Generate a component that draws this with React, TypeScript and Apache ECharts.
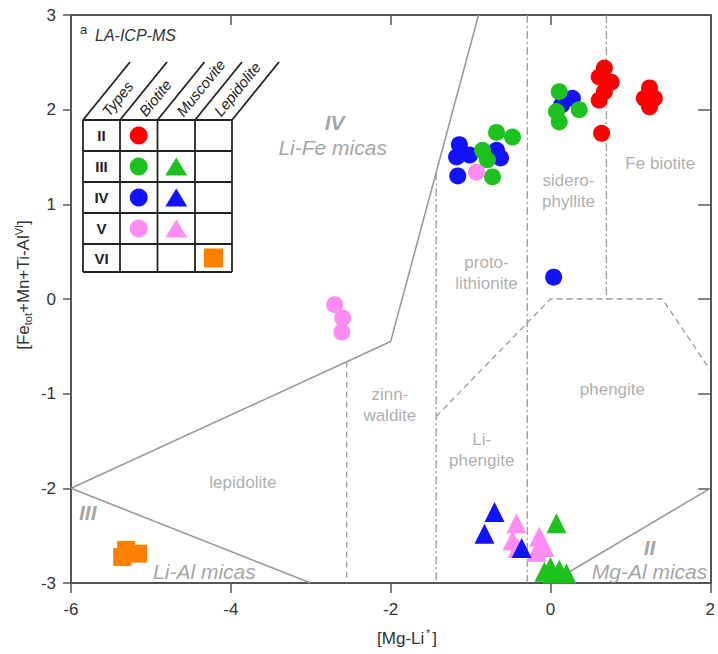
import React, { useEffect, useRef } from "react";
import * as echarts from "echarts";

const FONT = "'Liberation Sans', Arial, Helvetica, sans-serif";

// axis ranges / ticks
const xRange = [-6, 2];
const yRange = [-3, 3];
const xInterval = 2;
const yInterval = 1;

// ---- data: [Mg-Li*, Fetot+Mn+Ti-AlVI] ----
const typeIIBiotite: number[][] = [
  [0.675, 2.44], [0.61, 2.345], [0.76, 2.29], [0.675, 2.19], [0.61, 2.1],
  [0.64, 1.75], [1.24, 2.23], [1.175, 2.12], [1.3, 2.12], [1.24, 2.03],
];
const typeIIIBiotite: number[][] = [
  [0.11, 2.19], [0.075, 1.98], [0.11, 1.87], [0.36, 2.0],
  [-0.675, 1.76], [-0.475, 1.71], [-0.85, 1.57], [-0.79, 1.47], [-0.725, 1.29],
];
const typeIVBiotite: number[][] = [
  [0.14, 2.05], [0.275, 2.12], [0.04, 0.23],
  [-1.14, 1.63], [-1.175, 1.5], [-1.01, 1.52], [-0.675, 1.57], [-0.625, 1.49], [-1.16, 1.3],
];
const typeVBiotite: number[][] = [
  [-0.925, 1.34], [-2.7, -0.06], [-2.6, -0.2], [-2.61, -0.35],
];
const typeIIIMuscovite: number[][] = [
  [0.075, -2.37], [-0.075, -2.88], [0.025, -2.9], [0.11, -2.86], [0.2, -2.9], [0.0, -2.83],
];
const typeIVMuscovite: number[][] = [
  [-0.7, -2.25], [-0.825, -2.48], [-0.36, -2.63],
];
const typeVMuscovite: number[][] = [
  [-0.425, -2.37], [-0.475, -2.55], [-0.41, -2.63], [-0.14, -2.51], [-0.075, -2.62], [-0.175, -2.67],
];
const typeVILepidolite: number[][] = [
  [-5.36, -2.725], [-5.16, -2.69], [-5.31, -2.65],
];

// ---- field boundaries ----
const solidBoundaryLiFe: number[][] = [[-6, -2], [-2, -0.45], [-0.9, 3]];
const solidBoundaryLiAl: number[][] = [[-6, -2], [-3, -3]];
const solidBoundaryMgAl: number[][] = [[0, -3], [2, -2]];
const dashedZinnwaldite: number[][] = [[-2.55, -0.66], [-2.55, -3]];
const dashedPhengite: number[][] = [[-1.43, -1.24], [0, 0], [1.4, 0], [2, -0.75]];
const dashDotLeft: number[][] = [[-1.43, 1.34], [-1.43, -3]];
const dashDotMiddle: number[][] = [[-0.29, 3], [-0.29, -3]];
const dashDotRight: number[][] = [[0.7, 3], [0.7, 0]];

// ---- field names ----
const fieldNames = [
  { name: "lepidolite", x: -3.85, y: -1.94 },
  { name: "zinn-\nwaldite", x: -2.01, y: -1.12 },
  { name: "Li-\nphengite", x: -0.86, y: -1.6 },
  { name: "phengite", x: 0.775, y: -0.96 },
  { name: "proto-\nlithionite", x: -0.8, y: 0.275 },
  { name: "sidero-\nphyllite", x: 0.225, y: 1.14 },
  { name: "Fe biotite", x: 1.375, y: 1.43 },
];
const groupNames = [
  { name: "IV", x: -2.7, y: 1.86, bold: true },
  { name: "Li-Fe micas", x: -2.725, y: 1.6, bold: false },
  { name: "III", x: -5.79, y: -2.26, bold: true },
  { name: "Li-Al micas", x: -4.33, y: -2.88, bold: false },
  { name: "II", x: 1.24, y: -2.63, bold: true },
  { name: "Mg-Al micas", x: 1.24, y: -2.88, bold: false },
];

// ---- legend table ----
const legendRows = ["II", "III", "IV", "V", "VI"];
const legendCols = ["Types", "Biotite", "Muscovite", "Lepidolite"];

const RED = "#ff0000";
const GREEN = "#1ec21e";
const BLUE = "#1212ff";
const PINK = "#ff8cf2";
const ORANGE = "#ff8000";

function lineSeries(data: number[][], type: any, width = 1.5) {
  return {
    type: "line",
    data,
    showSymbol: false,
    symbol: "none",
    silent: true,
    z: 1,
    lineStyle: { color: "#9a9a9a", width, type },
  };
}

function scatter(name: string, data: number[][], symbol: string, size: number, color: string, z: number) {
  return {
    type: "scatter",
    name,
    data,
    symbol,
    symbolSize: size,
    z,
    itemStyle: { color, opacity: 1 },
  };
}

function buildLegendTable() {
  const colX = [83, 120, 157.5, 195, 232];
  const rowY = [120, 151, 182, 213, 244, 272];
  const dx = 47;
  const dy = -58;
  const stroke = { stroke: "#222", lineWidth: 1.8 };
  const els: any[] = [];
  rowY.forEach((y) => {
    els.push({ type: "line", shape: { x1: colX[0], y1: y, x2: colX[4], y2: y }, style: stroke });
  });
  colX.forEach((x) => {
    els.push({ type: "line", shape: { x1: x, y1: rowY[0], x2: x, y2: rowY[5] }, style: stroke });
    els.push({ type: "line", shape: { x1: x, y1: rowY[0], x2: x + dx, y2: rowY[0] + dy }, style: stroke });
  });
  legendCols.forEach((c, i) => {
    els.push({
      type: "text",
      x: colX[i] + 22,
      y: 114,
      rotation: (51 * Math.PI) / 180,
      style: {
        text: c,
        fill: "#222",
        font: `italic 15px ${FONT}`,
        align: "left",
        verticalAlign: "middle",
      },
    });
  });
  const cx = colX.slice(0, 4).map((x, i) => (x + colX[i + 1]) / 2);
  const cy = rowY.slice(0, 5).map((y, i) => (y + rowY[i + 1]) / 2);
  legendRows.forEach((r, i) => {
    els.push({
      type: "text",
      x: cx[0],
      y: cy[i],
      style: { text: r, fill: "#222", font: `bold 15px ${FONT}`, align: "center", verticalAlign: "middle" },
    });
  });
  const circ = (col: number, row: number, color: string) =>
    els.push({ type: "circle", shape: { cx: cx[col], cy: cy[row], r: 9 }, style: { fill: color } });
  const tri = (col: number, row: number, color: string) => {
    const x = cx[col];
    const y = cy[row];
    els.push({
      type: "polygon",
      shape: { points: [[x, y - 9], [x + 11, y + 9], [x - 11, y + 9]] },
      style: { fill: color },
    });
  };
  circ(1, 0, RED);
  circ(1, 1, GREEN);
  circ(1, 2, BLUE);
  circ(1, 3, PINK);
  tri(2, 1, GREEN);
  tri(2, 2, BLUE);
  tri(2, 3, PINK);
  els.push({ type: "rect", shape: { x: cx[3] - 9.5, y: cy[4] - 9.5, width: 19, height: 19 }, style: { fill: ORANGE } });
  return { type: "group", children: els, z: 100 };
}

export default function App() {
  const ref = useRef<HTMLDivElement>(null);
  useEffect(() => {
    const chart = echarts.init(ref.current!, null, { renderer: "svg" });
    const axisLine = { show: true, onZero: false, lineStyle: { color: "#555", width: 2 } };
    const tickStyle = { color: "#555", width: 1.5 };
    const option: any = {
      animation: false,
      backgroundColor: "#fff",
      textStyle: { fontFamily: FONT },
      grid: { left: 71, right: 7, top: 15, bottom: 71 },
      xAxis: [
        {
          type: "value", min: xRange[0], max: xRange[1], interval: xInterval, position: "bottom",
          axisLine, axisTick: { show: true, inside: false, length: 10, lineStyle: tickStyle },
          axisLabel: { color: "#333", fontSize: 17, margin: 18, fontFamily: FONT },
          splitLine: { show: false },
        },
        {
          type: "value", min: xRange[0], max: xRange[1], interval: xInterval, position: "top",
          axisLine, axisTick: { show: true, inside: true, length: 10, lineStyle: tickStyle },
          axisLabel: { show: false }, splitLine: { show: false },
        },
      ],
      yAxis: [
        {
          type: "value", min: yRange[0], max: yRange[1], interval: yInterval, position: "left",
          axisLine, axisTick: { show: true, inside: false, length: 8, lineStyle: tickStyle },
          axisLabel: { color: "#333", fontSize: 17, margin: 15, fontFamily: FONT },
          splitLine: { show: false },
        },
        {
          type: "value", min: yRange[0], max: yRange[1], interval: yInterval, position: "right",
          axisLine, axisTick: { show: true, inside: true, length: 12, lineStyle: tickStyle },
          axisLabel: { show: false }, splitLine: { show: false },
        },
      ],
      graphic: [
        {
          type: "text", x: 80, y: 29,
          style: { text: "a", fill: "#333", font: `13px ${FONT}`, align: "left", verticalAlign: "middle" },
        },
        {
          type: "text", x: 95, y: 35,
          style: { text: "LA-ICP-MS", fill: "#333", font: `italic 16px ${FONT}`, align: "left", verticalAlign: "middle" },
        },
        {
          type: "text", x: 407, y: 638,
          style: {
            text: "{n|[Mg-Li}{s|*}{n|]}",
            align: "center", verticalAlign: "middle",
            rich: {
              n: { fontSize: 17, fontFamily: FONT, fill: "#333", lineHeight: 20 },
              s: { fontSize: 10, fontFamily: FONT, fill: "#333", verticalAlign: "top", lineHeight: 20, padding: [0, 2, 0, 2] },
            },
          },
        },
        {
          type: "text", x: 23, y: 285, rotation: Math.PI / 2,
          style: {
            text: "{n|[Fe}{b|tot}{n|+Mn+Ti-Al}{s|VI}{n|]}",
            align: "center", verticalAlign: "middle",
            rich: {
              n: { fontSize: 17, fontFamily: FONT, fill: "#333", lineHeight: 20 },
              b: { fontSize: 11, fontFamily: FONT, fill: "#333", verticalAlign: "bottom", lineHeight: 20 },
              s: { fontSize: 11, fontFamily: FONT, fill: "#333", verticalAlign: "top", lineHeight: 20 },
            },
          },
        },
        buildLegendTable(),
      ],
      series: [
        lineSeries(solidBoundaryLiFe, "solid", 1.6),
        lineSeries(solidBoundaryLiAl, "solid", 1.6),
        lineSeries(solidBoundaryMgAl, "solid", 1.6),
        lineSeries(dashedZinnwaldite, [6, 4], 1.3),
        lineSeries(dashedPhengite, [6, 4], 1.3),
        lineSeries(dashDotLeft, [8, 3, 2, 3], 1.3),
        lineSeries(dashDotMiddle, [8, 3, 2, 3], 1.3),
        lineSeries(dashDotRight, [8, 3, 2, 3], 1.3),
        {
          type: "scatter",
          silent: true,
          symbolSize: 1,
          z: 2,
          itemStyle: { color: "rgba(0,0,0,0)" },
          data: fieldNames.map((f) => ({ name: f.name, value: [f.x, f.y] })),
          label: {
            show: true, position: "inside", formatter: "{b}",
            color: "#999", fontSize: 17, lineHeight: 21, align: "center", fontFamily: FONT,
          },
        },
        {
          type: "scatter",
          silent: true,
          symbolSize: 1,
          z: 2,
          itemStyle: { color: "rgba(0,0,0,0)" },
          data: groupNames.map((f) => ({
            name: f.name, value: [f.x, f.y],
            label: { fontWeight: f.bold ? "bold" : "normal" },
          })),
          label: {
            show: true, position: "inside", formatter: "{b}",
            color: "#8c8c8c", fontSize: 21, fontStyle: "italic", align: "center", fontFamily: FONT,
          },
        },
        scatter("Type II biotite", typeIIBiotite, "circle", 17, RED, 10),
        scatter("Type IV biotite", typeIVBiotite, "circle", 17, BLUE, 11),
        scatter("Type III biotite", typeIIIBiotite, "circle", 17, GREEN, 12),
        scatter("Type V biotite", typeVBiotite, "circle", 17, PINK, 13),
        scatter("Type V muscovite", typeVMuscovite, "triangle", 20, PINK, 10),
        scatter("Type IV muscovite", typeIVMuscovite, "triangle", 20, BLUE, 11),
        scatter("Type III muscovite", typeIIIMuscovite, "triangle", 20, GREEN, 12),
        scatter("Type VI lepidolite", typeVILepidolite, "rect", 18, ORANGE, 10),
      ],
    };
    chart.setOption(option);
    return () => chart.dispose();
  }, []);
  return (
    <div
      ref={ref}
      style={{ position: "absolute", left: 0, top: 0, width: 718, height: 654, background: "#fff" }}
    />
  );
}
